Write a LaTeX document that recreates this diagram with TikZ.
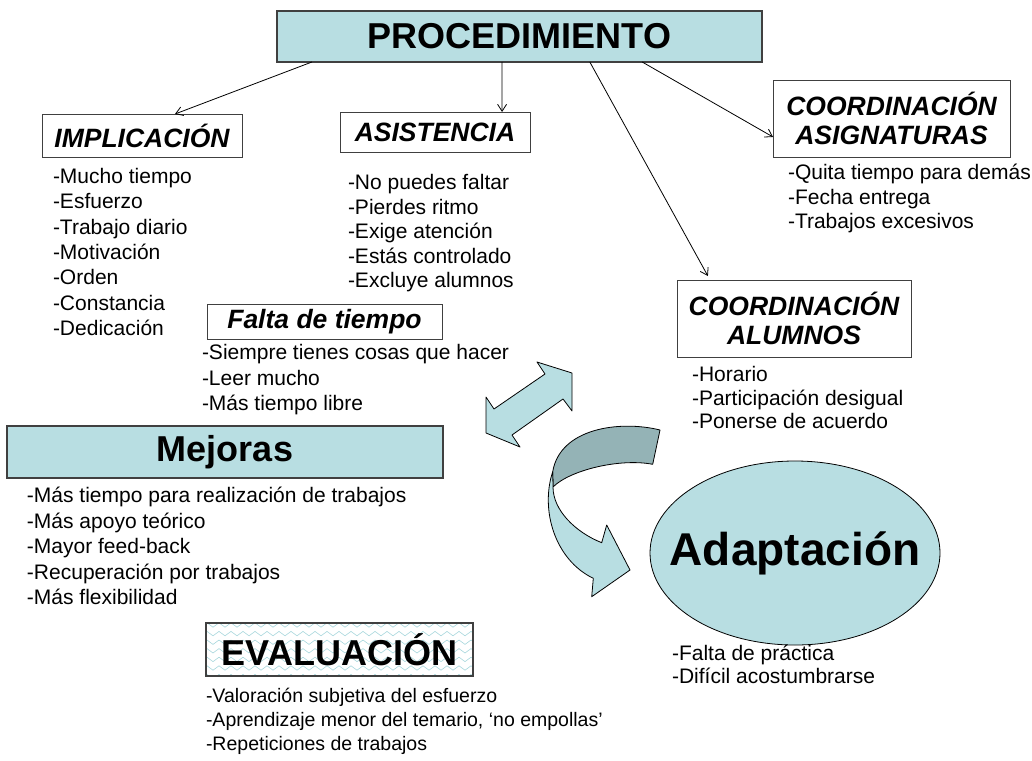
\documentclass[tikz,border=0pt]{standalone}
\usepackage{fontspec}
\setmainfont{Liberation Sans}
\usetikzlibrary{arrows.meta,positioning,calc,shapes.geometric}
\definecolor{cFill}{HTML}{B8DEE2}
\definecolor{cDark}{HTML}{94B3B6}
\definecolor{cEdge}{HTML}{404040}
\definecolor{cWave}{HTML}{A6D6DC}
\tikzset{
  headbox/.style ={draw=cEdge,fill=cFill,line width=1.4pt,inner sep=0pt,
                   font=\bfseries\fontsize{36}{40}\selectfont},
  secbox/.style  ={draw=cEdge,fill=white,line width=1pt,inner sep=0pt,align=center,
                   font=\bfseries\itshape\fontsize{26.5}{29}\selectfont},
  item/.style    ={anchor=west,inner sep=0pt,font=\fontsize{21}{25}\selectfont,
                   text height=15pt,text depth=4pt},
  link/.style    ={-{Straight Barb[length=7pt,width=9pt]},line width=0.8pt},
  ribbon/.style  ={draw=black,line width=0.8pt,fill=cFill,line join=round},
  wave/.style    ={draw=cWave,line width=0.6pt},
}

\begin{document}
\begin{tikzpicture}[x=1pt,y=1pt,every node/.style={outer sep=0pt}]
\useasboundingbox (0,0) rectangle (1032,-760);

% ---------------- main box and branches ----------------------------------
\node[headbox,minimum width=485pt,minimum height=51pt] (proc) at (519.5,-36.5) {PROCEDIMIENTO};
\node[secbox,minimum width=200pt,minimum height=43pt] (impl) at (142,-135.5) {IMPLICACIÓN};
\node[secbox,minimum width=190pt,minimum height=40pt] (asis) at (435,-132) {ASISTENCIA};
\node[secbox,minimum width=237pt,minimum height=77pt] (asig) at (891.5,-118.5)
  {COORDINACIÓN\\ASIGNATURAS};
\node[secbox,minimum width=234pt,minimum height=77pt] (alum) at (794,-318.5)
  {COORDINACIÓN\\ALUMNOS};
\node[secbox,minimum width=235pt,minimum height=35pt] (falta) at (324.5,-321.5) {Falta de tiempo};

\draw[link] ($(proc.south west)!0.072!(proc.south east)$) -- ($(impl.north west)!0.665!(impl.north east)$);
\draw[link] ($(proc.south west)!0.464!(proc.south east)$) -- ($(asis.north west)!0.853!(asis.north east)$);
\draw[link] ($(proc.south west)!0.645!(proc.south east)$) -- ($(alum.north west)!0.132!(alum.north east)+(0,4)$);
\draw[link] ($(proc.south west)!0.753!(proc.south east)$) -- ($(asig.north west)!0.74!(asig.south west)$);

% ---------------- lists ---------------------------------------------------
\foreach \i/\t in {1/{-Mucho tiempo},2/{-Esfuerzo},3/{-Trabajo diario},4/{-Motivación},
                   5/{-Orden},6/{-Constancia},7/{-Dedicación}}
  {\node[item] (imp\i) at (53,{-178-25.3*(\i-1)}) {\t};}
\foreach \i/\t in {1/{-No puedes faltar},2/{-Pierdes ritmo},3/{-Exige atención},
                   4/{-Estás controlado},5/{-Excluye alumnos}}
  {\node[item] (as\i) at (348,{-184-24.5*(\i-1)}) {\t};}
\foreach \i/\t in {1/{-Quita tiempo para demás},2/{-Fecha entrega},3/{-Trabajos excesivos}}
  {\node[item] (sg\i) at (788,{-174-24.5*(\i-1)}) {\t};}
\foreach \i/\t in {1/{-Siempre tienes cosas que hacer},2/{-Leer mucho},3/{-Más tiempo libre}}
  {\node[item] (ft\i) at (202,{-354-25.5*(\i-1)}) {\t};}
\foreach \i/\t in {1/{-Horario},2/{-Participación desigual},3/{-Ponerse de acuerdo}}
  {\node[item] (al\i) at (692,{-376-23.5*(\i-1)}) {\t};}

% ---------------- Mejoras -------------------------------------------------
\node[headbox,line width=1.2pt,minimum width=436pt,minimum height=52pt] (mej) at (225,-452) {Mejoras};
\foreach \i/\t in {1/{-Más tiempo para realización de trabajos},2/{-Más apoyo teórico},
                   3/{-Mayor feed-back},4/{-Recuperación por trabajos},5/{-Más flexibilidad}}
  {\node[item] (mj\i) at (27,{-497-25.5*(\i-1)}) {\t};}

% ---------------- EVALUACION ----------------------------------------------
\path node[minimum width=267pt,minimum height=53pt,inner sep=0pt] (eval) at (339.5,-649.5) {};
\begin{scope}
  \clip (eval.south west) rectangle (eval.north east);
  \foreach \k in {0,...,6}
    {\draw[wave] plot[domain=195:489,samples=50] (\x,{-625-8.6*\k+2.2*sin(30*\x)});}
\end{scope}
\node[draw=cEdge,line width=1.2pt,minimum width=267pt,minimum height=53pt,inner sep=0pt,
      font=\bfseries\fontsize{36}{40}\selectfont] (evaltxt) at (eval) {EVALUACIÓN};
\foreach \i/\t in {1/{-Valoración subjetiva del esfuerzo},
                   2/{-Aprendizaje menor del temario, `no empollas'},3/{-Repeticiones de trabajos}}
  {\node[item,font=\fontsize{19.5}{24}\selectfont] (ev\i) at (206,{-697-24*(\i-1)}) {\t};}

% ---------------- Adaptacion ----------------------------------------------
\node[ellipse,draw=black,line width=0.8pt,fill=cFill,minimum width=290pt,minimum height=184pt,
      inner sep=0pt] (adap) at (795,-553) {};
\node[font=\bfseries\fontsize{46}{50}\selectfont] (adaptxt) at (adap.center) {Adaptación};
\foreach \i/\t in {1/{-Falta de práctica},2/{-Difícil acostumbrarse}}
  {\node[item] (ad\i) at (672,{-655-23*(\i-1)}) {\t};}

% ---------------- arrows --------------------------------------------------
\draw[ribbon] (486,-433) -- (520,-447) -- (512,-435) -- (563,-399) -- (572,-411)
  -- (572,-373) -- (537,-362) -- (545,-374) -- (494,-409) -- (486,-397) -- cycle;
\draw[ribbon,fill=cDark] (660,-430) .. controls (620,-420) and (560,-428) .. (552.7,-471.7)
  -- (553,-487) .. controls (570,-470) and (620,-458) .. (652.7,-464.3) -- cycle;
\draw[ribbon] (552.7,-471.7) .. controls (540,-510) and (555,-560) .. (593.3,-578.3)
  -- (591.7,-596.7) -- (630,-570) -- (606.7,-525) -- (601.7,-542.7)
  .. controls (575,-532) and (553,-510) .. (553,-487) -- cycle;
\end{tikzpicture}
\end{document}
